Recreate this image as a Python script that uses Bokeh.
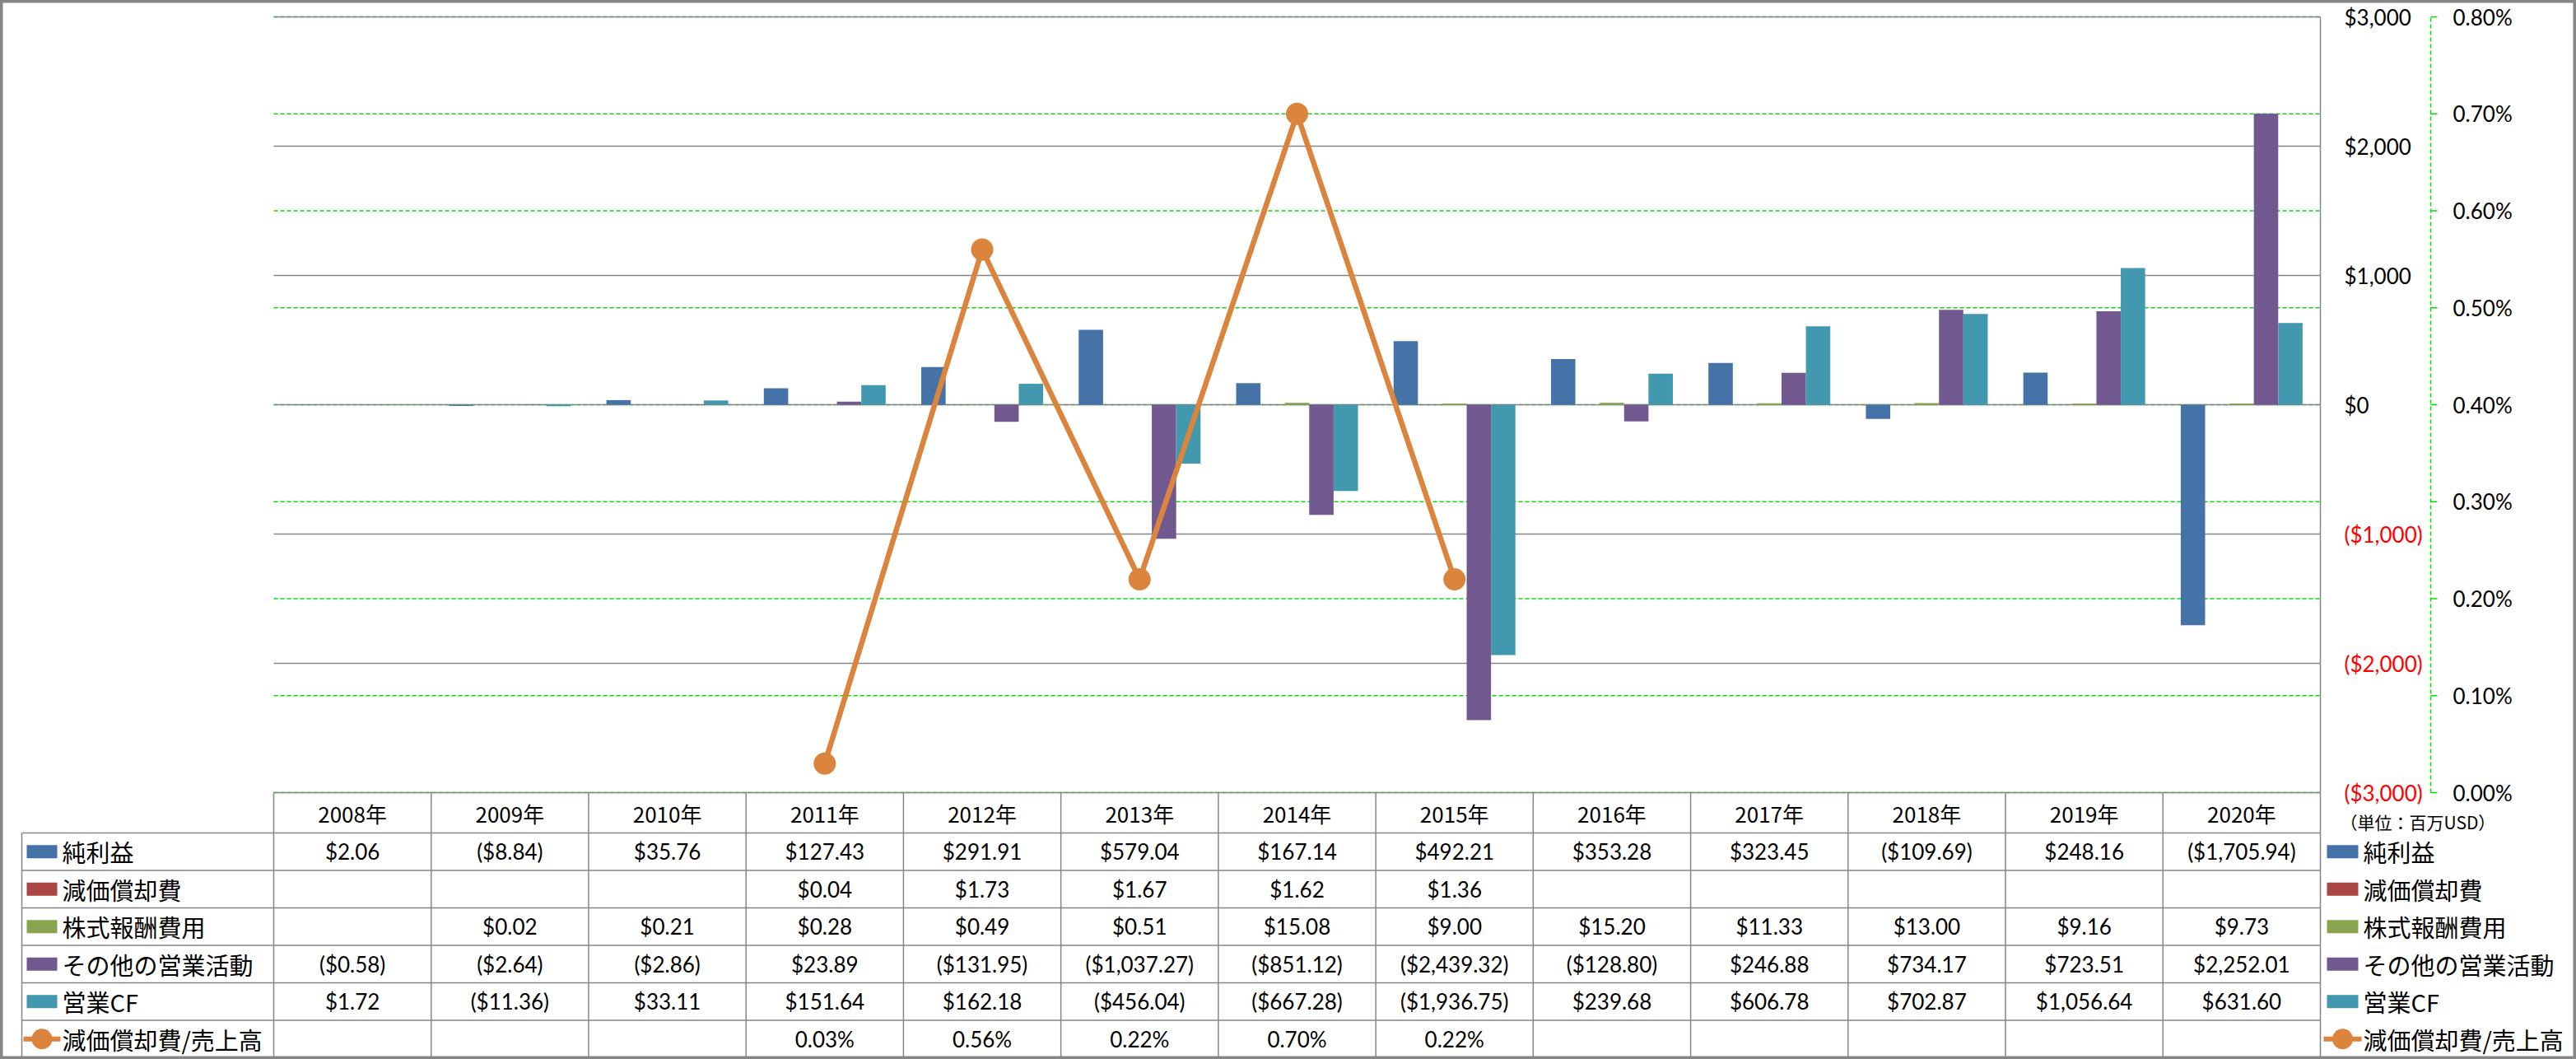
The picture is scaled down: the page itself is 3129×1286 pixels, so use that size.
from bokeh.plotting import figure
from bokeh.models import Range1d
from bokeh.core.properties import value
from bokeh.embed import file_html
from bokeh.resources import INLINE

# ---------------- data ----------------
years = ["2008年", "2009年", "2010年", "2011年", "2012年", "2013年", "2014年",
         "2015年", "2016年", "2017年", "2018年", "2019年", "2020年"]

series_names = ["純利益", "減価償却費", "株式報酬費用", "その他の営業活動", "営業CF"]
line_name = "減価償却費/売上高"

net_income = [2.06, -8.84, 35.76, 127.43, 291.91, 579.04, 167.14, 492.21,
              353.28, 323.45, -109.69, 248.16, -1705.94]
depreciation = [None, None, None, 0.04, 1.73, 1.67, 1.62, 1.36,
                None, None, None, None, None]
stock_comp = [None, 0.02, 0.21, 0.28, 0.49, 0.51, 15.08, 9.00,
              15.20, 11.33, 13.00, 9.16, 9.73]
other_ops = [-0.58, -2.64, -2.86, 23.89, -131.95, -1037.27, -851.12, -2439.32,
             -128.80, 246.88, 734.17, 723.51, 2252.01]
operating_cf = [1.72, -11.36, 33.11, 151.64, 162.18, -456.04, -667.28, -1936.75,
                239.68, 606.78, 702.87, 1056.64, 631.60]
dep_ratio_pct = [None, None, None, 0.03, 0.56, 0.22, 0.70, 0.22,
                 None, None, None, None, None]

usd_ticks = [-3000, -2000, -1000, 0, 1000, 2000, 3000]
usd_tick_labels = ["($3,000)", "($2,000)", "($1,000)", "$0", "$1,000", "$2,000", "$3,000"]
pct_ticks = [0.0, 0.1, 0.2, 0.3, 0.4, 0.5, 0.6, 0.7, 0.8]
pct_tick_labels = ["0.00%", "0.10%", "0.20%", "0.30%", "0.40%", "0.50%", "0.60%", "0.70%", "0.80%"]
unit_label = "（単位：百万USD）"

# ---------------- styles / layout ----------------
bar_series = [net_income, depreciation, stock_comp, other_ops, operating_cf]
bar_colors = ["#4572A7", "#AA4643", "#89A54E", "#71588F", "#4198AF"]
line_color = "#DB843D"
GRID_GRAY = "#868686"
GRID_GREEN = "#00E000"
NUM_FONT = value("Lato")
JP_FONT = value("Noto Sans CJK JP")

W, H = 3129, 1286
PL, PR, PT, PB = 332, 2818, 20, 962
n = len(years)
COL_W = (PR - PL) / n
BAR_W = 29.6 / COL_W
USD_MIN, USD_MAX = -3000, 3000
PCT_MIN, PCT_MAX = 0.0, 0.8
row_edges = [962, 1011, 1056.5, 1102, 1147.5, 1193, 1238.5, 1284]
row_centers = [(row_edges[k] + row_edges[k + 1]) / 2 for k in range(7)]

upp = (USD_MAX - USD_MIN) / (PB - PT)
ppp = (PCT_MAX - PCT_MIN) / (PB - PT)

p = figure(width=W, height=H, output_backend="svg", toolbar_location=None, title=None,
           x_range=Range1d(-PL / COL_W, (W - PL) / COL_W),
           y_range=Range1d(USD_MIN - (H - PB) * upp, USD_MAX + PT * upp),
           x_axis_location=None, y_axis_location=None, min_border=0)
p.extra_x_ranges = {"px": Range1d(0, W)}
p.extra_y_ranges = {"pct": Range1d(PCT_MIN - (H - PB) * ppp, PCT_MAX + PT * ppp),
                    "py": Range1d(H, 0)}
p.grid.visible = False
p.outline_line_color = GRID_GRAY
p.outline_line_width = 6
p.background_fill_color = "white"
p.border_fill_color = "white"

# ---------------- gridlines ----------------
p.segment(x0=0, x1=n, y0=pct_ticks, y1=pct_ticks, y_range_name="pct",
          line_color=GRID_GREEN, line_width=1.5, line_dash="5 3")
p.segment(x0=0, x1=n, y0=usd_ticks, y1=usd_ticks,
          line_color=GRID_GRAY, line_width=1.5)
p.segment(x0=n, x1=n, y0=USD_MIN, y1=USD_MAX, line_color=GRID_GRAY, line_width=1.5)

# ---------------- bars ----------------
for k, (vals, col) in enumerate(zip(bar_series, bar_colors)):
    xs = [i + 0.5 + (k - 2) * BAR_W for i, v in enumerate(vals) if v is not None]
    tops = [v for v in vals if v is not None]
    p.vbar(x=xs, top=tops, bottom=0, width=BAR_W, fill_color=col, line_color=None)

# ---------------- line ----------------
lx = [i + 0.5 for i, v in enumerate(dep_ratio_pct) if v is not None]
ly = [v for v in dep_ratio_pct if v is not None]
p.line(x=lx, y=ly, y_range_name="pct", line_color=line_color, line_width=6.5)
p.scatter(x=lx, y=ly, y_range_name="pct", size=27, fill_color=line_color, line_color=None)

# ---------------- right axes ----------------
AX2_X = 2952
p.segment(x0=AX2_X, x1=AX2_X, y0=PCT_MIN, y1=PCT_MAX, x_range_name="px", y_range_name="pct",
          line_color=GRID_GREEN, line_width=1.5, line_dash="5 3")
p.segment(x0=AX2_X, x1=AX2_X + 8, y0=pct_ticks, y1=pct_ticks, x_range_name="px",
          y_range_name="pct", line_color=GRID_GREEN, line_width=1.5)
usd_colors = ["#FF0000" if t < 0 else "black" for t in usd_ticks]
p.text(x=2847, y=usd_ticks, text=usd_tick_labels, x_range_name="px", text_color=usd_colors,
       text_font=NUM_FONT, text_font_size="26px", text_align="left", text_baseline="middle")
p.text(x=2979, y=pct_ticks, text=pct_tick_labels, x_range_name="px", y_range_name="pct",
       text_color="black", text_font=NUM_FONT, text_font_size="26px",
       text_align="left", text_baseline="middle")
p.text(x=2842, y=997, text=[unit_label], x_range_name="px", y_range_name="py",
       text_color="black", text_font=JP_FONT, text_font_size="21px",
       text_align="left", text_baseline="middle")

# ---------------- data table ----------------
p.segment(x0=list(range(n + 1)), x1=list(range(n + 1)), y0=row_edges[0], y1=row_edges[-1],
          y_range_name="py", line_color=GRID_GRAY, line_width=1.5)
p.segment(x0=26, x1=PR, y0=row_edges[1:], y1=row_edges[1:], x_range_name="px",
          y_range_name="py", line_color=GRID_GRAY, line_width=1.5)
p.segment(x0=26, x1=26, y0=row_edges[1], y1=row_edges[-1], x_range_name="px",
          y_range_name="py", line_color=GRID_GRAY, line_width=1.5)

p.text(x=[i + 0.5 for i in range(n)], y=row_centers[0], text=years, y_range_name="py",
       text_color="black", text_font=JP_FONT, text_font_size="26px",
       text_align="center", text_baseline="middle")


def fmt_usd(v):
    s = "${:,.2f}".format(abs(v))
    return "(" + s + ")" if v < 0 else s


table_rows = [(vals, fmt_usd) for vals in bar_series] + [(dep_ratio_pct, lambda v: "{:.2f}%".format(v))]
for r, (vals, fmt) in enumerate(table_rows):
    xs = [i + 0.5 for i, v in enumerate(vals) if v is not None]
    txt = [fmt(v) for v in vals if v is not None]
    p.text(x=xs, y=row_centers[r + 1], text=txt, y_range_name="py", text_color="black",
           text_font=NUM_FONT, text_font_size="26px", text_align="center", text_baseline="middle")

# ---------------- legend keys (left table column and right legend) ----------------
all_names = series_names + [line_name]
for key_l, key_r, text_x in [(32, 69, 75), (2826, 2864, 2870)]:
    bc = row_centers[1:6]
    p.quad(left=key_l, right=key_r, top=[c - 8 for c in bc], bottom=[c + 8 for c in bc],
           x_range_name="px", y_range_name="py", fill_color=bar_colors, line_color=None)
    lc = row_centers[6]
    p.segment(x0=key_l - 4, x1=key_r + 4, y0=lc, y1=lc, x_range_name="px", y_range_name="py",
              line_color=line_color, line_width=6)
    p.scatter(x=[(key_l + key_r) / 2], y=[lc], x_range_name="px", y_range_name="py",
              size=25, fill_color=line_color, line_color=None)
    p.text(x=text_x, y=row_centers[1:], text=all_names, x_range_name="px", y_range_name="py",
           text_color="black", text_font=JP_FONT, text_font_size="29px",
           text_align="left", text_baseline="middle")

open("out.html", "w").write(file_html(p, INLINE))
